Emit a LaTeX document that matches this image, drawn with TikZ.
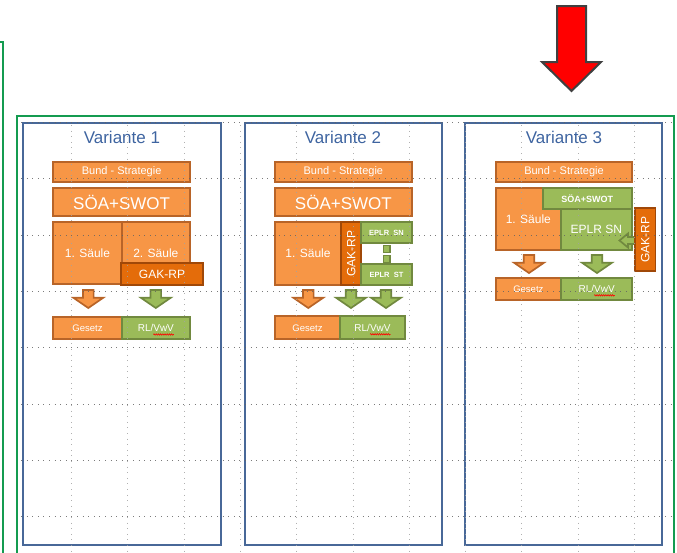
\documentclass[tikz,border=0pt]{standalone}
\usepackage{fontspec}
\setmainfont{Liberation Sans}
\usetikzlibrary{calc,decorations.pathmorphing}
\definecolor{ofill}{HTML}{F79646}
\definecolor{obord}{RGB}{184,100,40}
\definecolor{dfill}{HTML}{E46C0A}
\definecolor{dbord}{RGB}{160,72,8}
\definecolor{gfill}{HTML}{9BBB59}
\definecolor{gbord}{RGB}{113,137,63}
\definecolor{pbord}{RGB}{72,104,152}
\definecolor{ttl}{RGB}{62,100,160}
\definecolor{outg}{RGB}{20,155,80}
\definecolor{gridc}{RGB}{100,100,100}
\newcommand\fs[1]{\fontsize{#1}{#1}\selectfont}
\newcommand\blkdn[3]{%
  \draw[#3] (#1-5.3,#2) -- (#1+5.3,#2) -- (#1+5.3,#2+7.7) -- (#1+15,#2+7.7)
    -- (#1,#2+18) -- (#1-15,#2+7.7) -- (#1-5.3,#2+7.7) -- cycle;}
% box from corners: style, name, x1, y1, x2, y2, text
\newcommand\bx[7]{%
  \node[#1, minimum width={#5-#3}, minimum height={#6-#4}] (#2) at ({(#3+#5)/2},{(#4+#6)/2}) {#7};}
\tikzset{
  base/.style={inner sep=0pt, outer sep=0pt, line width=1.9pt, text=white, align=center},
  obox/.style={base, draw=obord, fill=ofill},
  dbox/.style={base, draw=dbord, fill=dfill},
  gbox/.style={base, draw=gbord, fill=gfill},
  panel/.style={draw=pbord, line width=2pt, inner sep=0pt, outer sep=0pt},
  title/.style={text=ttl, font=\fs{17}},
  oarr/.style={fill=ofill, draw=obord, line width=1.7pt},
  garr/.style={fill=gfill, draw=gbord, line width=1.7pt},
  wavy/.style={red, line width=0.6pt, decorate, decoration={snake, amplitude=0.7pt, segment length=2.2pt}},
  hgrid/.style={gridc, line width=0.9pt, dash pattern=on 1pt off 4.6pt, opacity=0.85},
  vgrid/.style={gridc!60, line width=0.9pt, dash pattern=on 1pt off 4.6pt, opacity=0.85},
}
\begin{document}
\begin{tikzpicture}[x=1pt,y=-1pt]
\useasboundingbox (0,0) rectangle (677,552);
\clip (0,0) rectangle (677,552);
% outer frames
\draw[outg, line width=2pt] (-10,42) -- (3,42) -- (3,560);
\bx{draw=outg, line width=2pt, inner sep=0pt}{frame}{16.7}{115.7}{674}{580}{}
% red arrow
\draw[fill=red, draw=black!75, line width=2pt, line join=miter]
  (557,6) -- (586,6) -- (586,62) -- (601,62) -- (571.5,91) -- (542,62) -- (557,62) -- cycle;

% ---------------- Panel 1
\bx{panel}{p1}{23.3}{123.3}{220.5}{545}{}
\node[title] (t1) at (121.9,137) {Variante 1};
\bx{obox, font=\fs{11}}{b1}{53.3}{161.7}{190}{181.7}{Bund - Strategie}
\bx{obox, font=\fs{17}}{s1}{53.3}{187.7}{190}{216.3}{SÖA+SWOT}
\bx{obox, font=\fs{12}}{sa1}{53.3}{221.7}{121.7}{284.3}{1. Säule}
\bx{obox, font=\fs{12}}{sb1}{121.7}{221.7}{190}{284.3}{2. Säule}
\bx{dbox, font=\fs{12}}{gak1}{121.3}{263.3}{202.7}{285}{GAK-RP}
\blkdn{88.3}{290}{oarr}
\blkdn{155.8}{290}{garr}
\bx{obox, font=\fs{9.5}}{g1}{53.3}{316.7}{121.7}{339.3}{Gesetz}
\bx{gbox, font=\fs{10}}{r1}{121.7}{316.7}{190}{339.3}{RL/VwV}
\draw[wavy] ($(r1.center)+(-2.5,6.5)$) -- ($(r1.center)+(18.1,6.5)$);

% ---------------- Panel 2
\bx{panel}{p2}{244.5}{123.3}{441.5}{545}{}
\node[title] (t2) at (343,137) {Variante 2};
\bx{obox, font=\fs{11}}{b2}{275}{161.7}{411.7}{181.7}{Bund - Strategie}
\bx{obox, font=\fs{17}}{s2}{275}{187.7}{411.7}{216.3}{SÖA+SWOT}
\bx{obox, font=\fs{12}}{sa2}{275}{221.7}{341}{285}{1. Säule}
\bx{dbox}{gak2}{341}{221.7}{361.3}{285}{}
\node[text=white, font=\fs{12}, rotate=90, inner sep=0pt] (gak2t) at (gak2.center) {GAK-RP};
\bx{gbox, font=\bfseries\fs{7.5}}{e2}{361.3}{222}{411.7}{243.3}{EPLR\ \ SN}
\bx{gbox, line width=1.4pt}{q1}{383.3}{245.7}{390}{252.3}{}
\bx{gbox, line width=1.4pt}{q2}{383.3}{255.7}{390}{262.3}{}
\bx{gbox, font=\bfseries\fs{7.5}}{e3}{361.3}{264.3}{411.7}{285}{EPLR\ \ ST}
\blkdn{308.3}{290}{oarr}
\blkdn{351}{290}{garr}
\blkdn{386}{290}{garr}
\bx{obox, font=\fs{9.5}}{g2}{275}{316.3}{340}{339.3}{Gesetz}
\bx{gbox, font=\fs{10}}{r2}{340}{316.3}{405}{339.3}{RL/VwV}
\draw[wavy] ($(r2.center)+(-2.5,6.5)$) -- ($(r2.center)+(18.1,6.5)$);

% ---------------- Panel 3
\bx{panel}{p3}{465.3}{123.3}{662.3}{545}{}
\node[title] (t3) at (564,137) {Variante 3};
\bx{obox, font=\fs{11}}{b3}{495.7}{161.7}{632.3}{181.7}{Bund - Strategie}
\bx{obox, font=\fs{12}}{sa3}{495.7}{188}{561}{250}{1. Säule}
\bx{gbox, font=\fs{12}}{ep3}{561}{209.3}{631.7}{250}{EPLR SN}
\bx{gbox, font=\bfseries\fs{9}}{so3}{542.7}{188}{631.7}{209.3}{SÖA+SWOT}
\draw[garr] (636,237) -- (628,237) -- (628,233.5) -- (619.5,240.5) -- (628,247.5) -- (628,244) -- (636,244);
\bx{dbox}{gak3}{635}{208.3}{655.5}{271}{}
\node[text=white, font=\fs{12}, rotate=90, inner sep=0pt] (gak3t) at (gak3.center) {GAK-RP};
\blkdn{529}{255}{oarr}
\blkdn{597}{255}{garr}
\bx{obox, font=\fs{9.5}}{g3}{495.7}{277.7}{561}{300}{Gesetz}
\bx{gbox, font=\fs{10}}{r3}{561}{277.7}{632.3}{300}{RL/VwV}
\draw[wavy] ($(r3.center)+(-2.5,6.5)$) -- ($(r3.center)+(18.1,6.5)$);

% ---------------- grid overlay
\foreach \k in {0,...,7} {
  \draw[hgrid] (21,122.5+56.3*\k) -- (673,122.5+56.3*\k);
}
\foreach \k in {0,...,10} {
  \draw[vgrid] (71.5+56.3*\k,125) -- (71.5+56.3*\k,552);
}
\end{tikzpicture}
\end{document}
